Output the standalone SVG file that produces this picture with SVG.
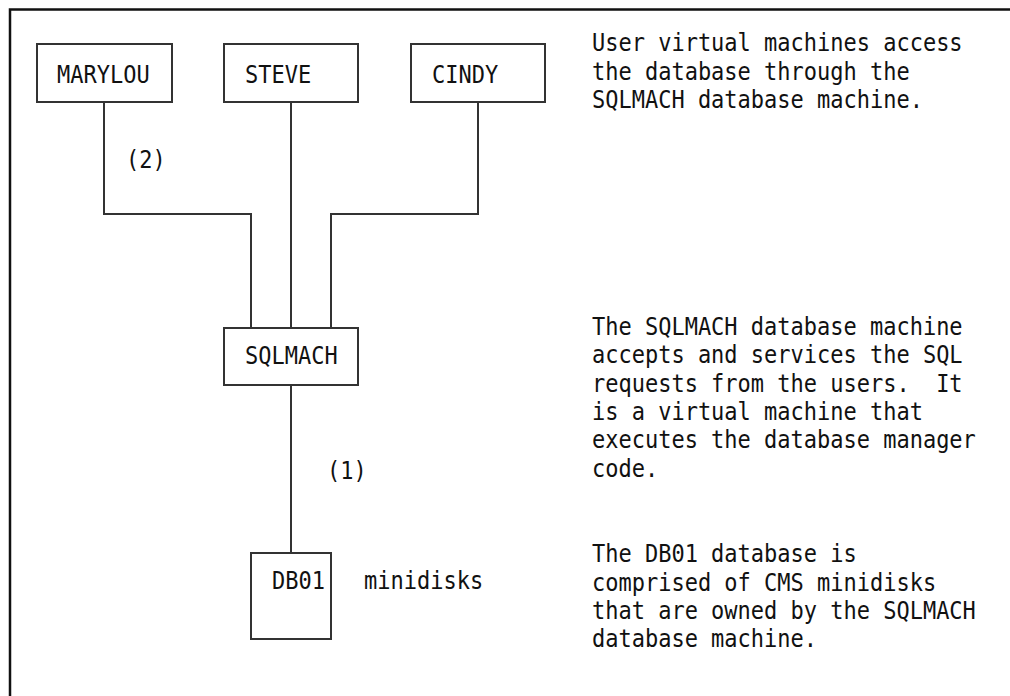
<svg xmlns="http://www.w3.org/2000/svg" width="1010" height="696" viewBox="0 0 1010 696">
  <style>
    .frame { fill: none; stroke: #111; stroke-width: 2.5; }
    .box { fill: #fff; stroke: #333; stroke-width: 2; }
    .link { fill: none; stroke: #333; stroke-width: 2; }
    text { font-family: "DejaVu Sans Mono", "Liberation Mono", monospace; font-size: 25px; fill: #111; white-space: pre; }
  </style>
  <rect width="1010" height="696" fill="#fff"/>
  <!-- open frame: top and left edges only -->
  <path class="frame" d="M10 696 V9.5 H1010"/>

  <g id="connectors">
    <path class="link" d="M104 102 V214 H251 V328"/>
    <path class="link" d="M291 102 V328"/>
    <path class="link" d="M478 102 V214 H331 V328"/>
    <path class="link" d="M291 385 V553"/>
  </g>

  <!-- condensed monospace text: each line is placed by translate, then narrowed -->
  <g id="marylou">
    <rect class="box" x="37" y="44" width="135" height="58"/>
    <text transform="translate(57 83) scale(0.88 1)">MARYLOU</text>
  </g>
  <g id="steve">
    <rect class="box" x="224" y="44" width="134" height="58"/>
    <text transform="translate(245 83) scale(0.88 1)">STEVE</text>
  </g>
  <g id="cindy">
    <rect class="box" x="411" y="44" width="134" height="58"/>
    <text transform="translate(432 83) scale(0.88 1)">CINDY</text>
  </g>
  <g id="sqlmach">
    <rect class="box" x="224" y="328" width="134" height="57"/>
    <text transform="translate(245 364) scale(0.88 1)">SQLMACH</text>
  </g>
  <g id="db01">
    <rect class="box" x="251" y="553" width="80" height="86"/>
    <text transform="translate(272 589) scale(0.88 1)">DB01</text>
    <text transform="translate(364 589) scale(0.88 1)">minidisks</text>
  </g>

  <g id="labels">
    <text transform="translate(126 168) scale(0.88 1)">(2)</text>
    <text transform="translate(327 479) scale(0.88 1)">(1)</text>
  </g>

  <g id="notes">
    <text transform="translate(592 51) scale(0.88 1)">User virtual machines access</text>
    <text transform="translate(592 80) scale(0.88 1)">the database through the</text>
    <text transform="translate(592 108) scale(0.88 1)">SQLMACH database machine.</text>

    <text transform="translate(592 335) scale(0.88 1)">The SQLMACH database machine</text>
    <text transform="translate(592 363) scale(0.88 1)">accepts and services the SQL</text>
    <text transform="translate(592 392) scale(0.88 1)" xml:space="preserve">requests from the users.  It</text>
    <text transform="translate(592 420) scale(0.88 1)">is a virtual machine that</text>
    <text transform="translate(592 448) scale(0.88 1)">executes the database manager</text>
    <text transform="translate(592 477) scale(0.88 1)">code.</text>

    <text transform="translate(592 562) scale(0.88 1)">The DB01 database is</text>
    <text transform="translate(592 591) scale(0.88 1)">comprised of CMS minidisks</text>
    <text transform="translate(592 619) scale(0.88 1)">that are owned by the SQLMACH</text>
    <text transform="translate(592 647) scale(0.88 1)">database machine.</text>
  </g>
</svg>
